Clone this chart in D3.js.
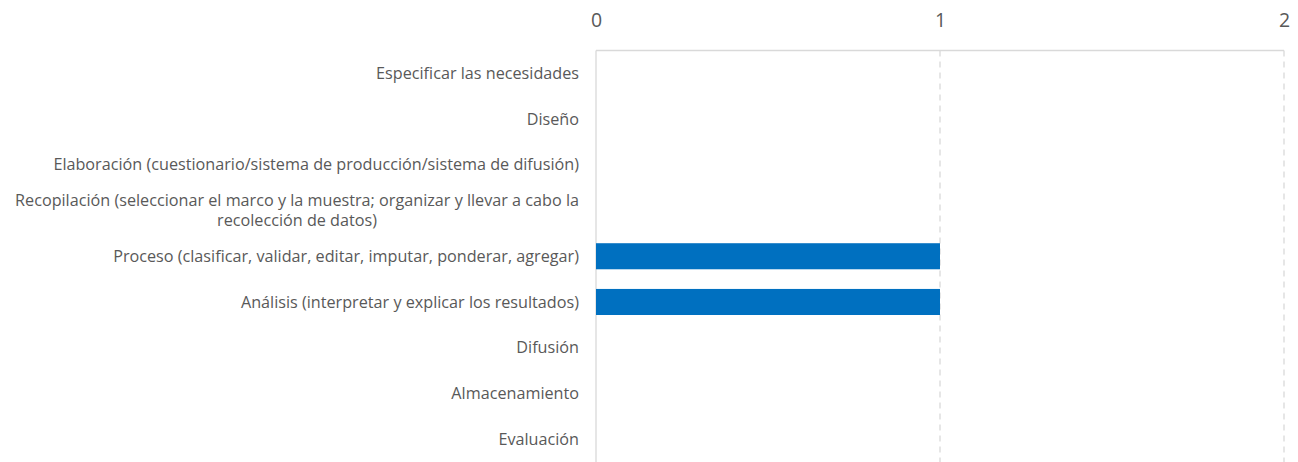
<!DOCTYPE html>
<html><head><meta charset="utf-8">
<script src="https://cdn.jsdelivr.net/npm/d3@7"></script>
<style>body{margin:0;background:#fff;} svg{display:block;}</style>
</head><body>
<svg id="chart" width="1298" height="462"></svg>
<script>
const categories = [
  "Especificar las necesidades",
  "Diseño",
  "Elaboración (cuestionario/sistema de producción/sistema de difusión)",
  "Recopilación (seleccionar el marco y la muestra; organizar y llevar a cabo la recolección de datos)",
  "Proceso (clasificar, validar, editar, imputar, ponderar, agregar)",
  "Análisis (interpretar y explicar los resultados)",
  "Difusión",
  "Almacenamiento",
  "Evaluación"
];
const values = [0, 0, 0, 0, 1, 1, 0, 0, 0];
const tickValues = [0, 1, 2];

(function () {
const svg = d3.select("#chart");
const mLeft = 596, mRight = 1284, mTop = 50.5, mBottom = 462;
const fontFamily = "'Open Sans', sans-serif";
const x = d3.scaleLinear().domain([0, 2]).range([mLeft, mRight]);
const y = d3.scaleBand().domain(categories).range([mTop, mBottom]).paddingInner(0.43).paddingOuter(0.215);

// gridlines
svg.append("g").selectAll("line").data(tickValues.filter(d => d > 0)).join("line")
  .attr("x1", d => x(d)).attr("x2", d => x(d)).attr("y1", mTop).attr("y2", mBottom)
  .attr("stroke", "#d9d9d9").attr("stroke-width", 1.3).attr("stroke-dasharray", "6,5");

// top axis line
svg.append("line").attr("x1", mLeft).attr("x2", mRight).attr("y1", mTop).attr("y2", mTop)
  .attr("stroke", "#d9d9d9").attr("stroke-width", 1.3);
// left axis line
svg.append("line").attr("x1", mLeft).attr("x2", mLeft).attr("y1", mTop).attr("y2", mBottom)
  .attr("stroke", "#d9d9d9").attr("stroke-width", 1.3);

// tick labels
const xAxis = d3.axisTop(x).tickValues(tickValues).tickFormat(d3.format("d")).tickSize(0).tickPadding(0);
const gx = svg.append("g").attr("transform", "translate(0,27)").call(xAxis);
gx.select(".domain").remove();
gx.selectAll("text").attr("fill", "#595959").style("font-family", fontFamily).style("font-size", "19.5px").attr("dy", 0);

// bars
svg.append("g").selectAll("rect").data(categories).join("rect")
  .attr("x", x(0)).attr("y", d => y(d))
  .attr("width", (d, i) => x(values[i]) - x(0))
  .attr("height", y.bandwidth())
  .attr("fill", "#0070c0");

// category labels with wrapping
const fs = "16.2px";
const maxW = 590;
const labelG = svg.append("g");
function measure(s) {
  const p = labelG.append("text").style("font-family", fontFamily).style("font-size", fs).text(s);
  const w = p.node().getComputedTextLength(); p.remove(); return w;
}
categories.forEach(c => {
  const cy = y(c) + y.bandwidth() / 2;
  const words = c.split(" ");
  let lines = [], cur = [];
  words.forEach(w => {
    const test = cur.concat([w]).join(" ");
    if (measure(test) > maxW && cur.length) { lines.push(cur.join(" ")); cur = [w]; }
    else cur.push(w);
  });
  lines.push(cur.join(" "));
  const lh = 20;
  if (lines.length === 1) {
    labelG.append("text").attr("fill", "#595959")
      .style("font-family", fontFamily).style("font-size", fs)
      .attr("x", 579).attr("y", cy).attr("dy", "0.35em").attr("text-anchor", "end").text(lines[0]);
  } else {
    const maxLine = d3.max(lines.map(measure));
    const centerX = 579 - maxLine / 2;
    lines.forEach((l, i) => {
      labelG.append("text").attr("fill", "#595959")
        .style("font-family", fontFamily).style("font-size", fs)
        .attr("x", centerX).attr("text-anchor", "middle")
        .attr("y", cy + (i - (lines.length - 1) / 2) * lh).attr("dy", "0.35em").text(l);
    });
  }
});
})();
</script>
</body></html>
